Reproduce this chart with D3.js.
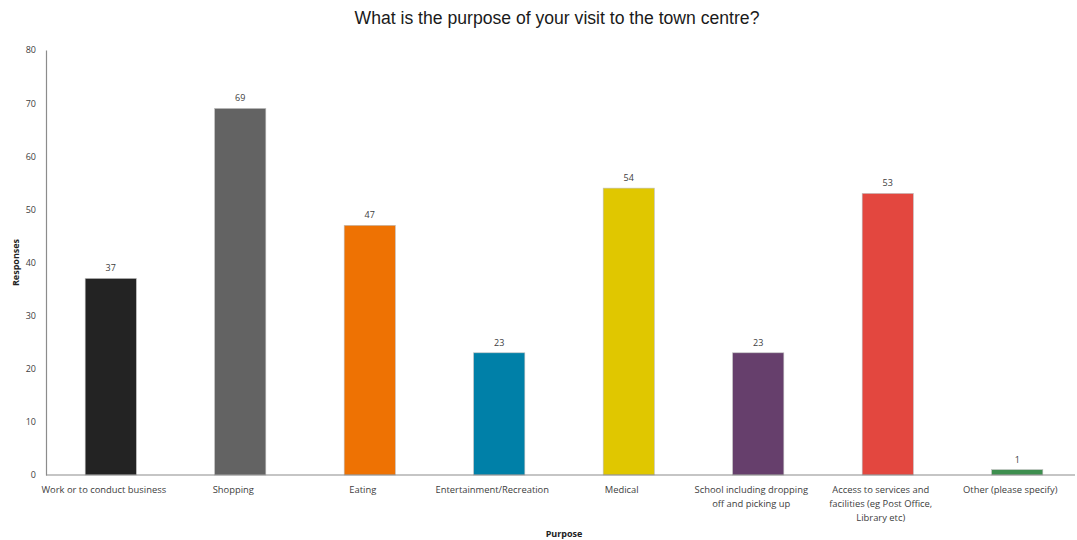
<!DOCTYPE html>
<html><head><meta charset="utf-8">
<script src="https://cdn.jsdelivr.net/npm/d3@7"></script>
<style>body{margin:0;background:#fff;} svg{display:block;}</style>
</head><body>
<svg id="chart" width="1077" height="540"></svg>
<script>
const categories = [
  ["Work or to conduct business"],
  ["Shopping"],
  ["Eating"],
  ["Entertainment/Recreation"],
  ["Medical"],
  ["School including dropping", "off and picking up"],
  ["Access to services and", "facilities (eg Post Office,", "Library etc)"],
  ["Other (please specify)"]
];
const values = [37, 69, 47, 23, 54, 23, 53, 1];
const colors = ["#232323", "#636363", "#ee7203", "#0080a8", "#e0c700", "#663f6c", "#e3473f", "#3e8f4f"];
const yTicks = [0, 10, 20, 30, 40, 50, 60, 70, 80];
const title = "What is the purpose of your visit to the town centre?";
const xTitle = "Purpose";
const yTitle = "Responses";

(function () {
const svg = d3.select("#chart");
const mLeft = 46, mRight = 1082, mTop = 50, mBottom = 475;
const font = "'Open Sans', 'Noto Sans', sans-serif";

const x = d3.scaleBand().domain(d3.range(values.length)).range([mLeft, mRight])
  .paddingInner(0.605).paddingOuter(0.3025);
const y = d3.scaleLinear().domain([0, 80]).range([mBottom, mTop]);

svg.append("text").attr("x", 557).attr("y", 24).attr("text-anchor", "middle")
  .attr("font-family", "'Liberation Sans', Arial, sans-serif").attr("font-size", 17.6)
  .attr("fill", "#1a1a1a").text(title);

// y axis
const yAxis = svg.append("g").attr("transform", `translate(${mLeft},0)`)
  .call(d3.axisLeft(y).tickValues(yTicks).tickSize(0).tickPadding(10));
yAxis.select(".domain").attr("stroke", "#8c8c8c").attr("stroke-width", 1.2);
yAxis.selectAll("text").attr("font-family", font).attr("font-size", 9).attr("fill", "#404040");

// bars
svg.append("g").selectAll("rect").data(values).join("rect")
  .attr("x", (d, i) => x(i)).attr("width", x.bandwidth())
  .attr("y", d => y(d)).attr("height", d => y(0) - y(d))
  .attr("fill", (d, i) => colors[i]).attr("stroke", "#bdbdbd").attr("stroke-width", 0.6);

// value labels
svg.append("g").selectAll("text").data(values).join("text")
  .attr("x", (d, i) => x(i) + x.bandwidth() / 2).attr("y", d => y(d) - 7)
  .attr("text-anchor", "middle").attr("font-family", font).attr("font-size", 9)
  .attr("fill", "#404040").text(d => d);

// x axis
const xAxis = svg.append("g").attr("transform", `translate(0,${mBottom})`)
  .call(d3.axisBottom(x).tickSize(0).tickFormat(""));
xAxis.select(".domain").attr("stroke", "#8c8c8c").attr("stroke-width", 1.2)
  .attr("d", `M${mLeft},0H1075`);

const lab = svg.append("g").selectAll("text").data(categories).join("text")
  .attr("text-anchor", "middle").attr("font-family", font).attr("font-size", 9.4)
  .attr("fill", "#404040")
  .attr("transform", (d, i) => `translate(${x(i) + x.bandwidth() / 2 - 7},${mBottom + 18})`);
lab.selectAll("tspan").data(d => d).join("tspan")
  .attr("x", 0).attr("dy", (d, j) => j === 0 ? 0 : 14).text(d => d);

svg.append("text").attr("x", 564).attr("y", 537).attr("text-anchor", "middle")
  .attr("font-family", font).attr("font-size", 9).attr("font-weight", "bold")
  .attr("fill", "#222").text(xTitle);

svg.append("text").attr("transform", `translate(19,${(mTop + mBottom) / 2}) rotate(-90)`)
  .attr("text-anchor", "middle").attr("font-family", font).attr("font-size", 9)
  .attr("font-weight", "bold").attr("fill", "#222").text(yTitle);
})();
</script>
</body></html>
